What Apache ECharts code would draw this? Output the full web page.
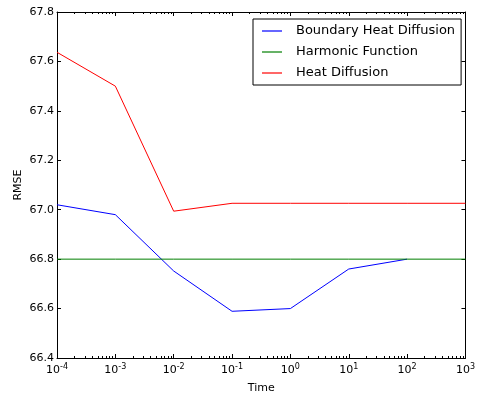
<!DOCTYPE html>
<html>
<head>
<meta charset="utf-8">
<script src="https://cdn.jsdelivr.net/npm/echarts@6/dist/echarts.min.js"></script>
<style>
  html, body { margin: 0; padding: 0; background: #fff; }
  #chart { width: 478px; height: 399px; }
</style>
</head>
<body>
<div id="chart"></div>
<script>
// Diffusion time (log scale) and the RMSE of each method
const times = [1e-4, 1e-3, 1e-2, 1e-1, 1, 10, 100, 1000];
const boundaryHeat = [67.02, 66.98, 66.752, 66.589, 66.60, 66.76, 66.80];
const harmonic = [66.8, 66.8, 66.8, 66.8, 66.8, 66.8, 66.8, 66.8];
const heatDiffusion = [67.637, 67.50, 66.994, 67.026, 67.026, 67.026, 67.026, 67.026];

const seriesNames = ['Boundary Heat Diffusion', 'Harmonic Function', 'Heat Diffusion'];
const seriesColors = ['#0000ff', '#007f00', '#ff0000'];
const yTicks = { min: 66.4, max: 67.8, step: 0.2 };

const FONT = 'DejaVu Sans';

function pairs(xs, ys) {
  return ys.map((y, i) => [xs[i], y]);
}

function powerLabel(v) {
  const e = Math.round(Math.log10(v));
  return '{b|10}{e|' + String(e) + '}';
}

const tickStyle = { show: true, inside: true, length: 4, lineStyle: { color: '#000', width: 1 } };
const minorStyle = { show: true, splitNumber: 9, length: 2, lineStyle: { color: '#000', width: 1 } };
const lineStyleAxis = { show: true, lineStyle: { color: '#000', width: 1 } };

const chart = echarts.init(document.getElementById('chart'), null, { renderer: 'canvas' });

chart.setOption({
  animation: false,
  backgroundColor: '#fff',
  textStyle: { fontFamily: FONT },
  grid: { left: 57, right: 12, top: 12, bottom: 41, containLabel: false },
  legend: {
    orient: 'vertical',
    left: 253,
    top: 19,
    padding: [5, 6, 5, 9],
    itemGap: 7,
    itemWidth: 20,
    itemHeight: 1.2,
    icon: 'rect',
    borderColor: '#000',
    borderWidth: 1,
    borderRadius: 0,
    backgroundColor: '#fff',
    data: seriesNames,
    textStyle: { fontFamily: FONT, fontSize: 13, lineHeight: 14, color: '#000', padding: [0, 0, 0, 9] }
  },
  xAxis: [
    {
      type: 'log', logBase: 10, min: 1e-4, max: 1e3,
      position: 'bottom',
      name: 'Time', nameLocation: 'middle', nameGap: 25,
      nameMoveOverlap: false,
      nameTextStyle: { fontFamily: FONT, fontSize: 11, color: '#000' },
      axisLine: lineStyleAxis,
      axisTick: tickStyle,
      minorTick: minorStyle,
      splitLine: { show: false },
      minorSplitLine: { show: false },
      axisLabel: {
        color: '#000', margin: 5,
        formatter: powerLabel,
        rich: {
          b: { fontFamily: FONT, fontSize: 11, color: '#000' },
          e: { fontFamily: FONT, fontSize: 8, color: '#000', verticalAlign: 'bottom', padding: [0, 0, 7, 0] }
        }
      }
    },
    {
      type: 'log', logBase: 10, min: 1e-4, max: 1e3,
      position: 'top',
      axisLine: lineStyleAxis,
      axisTick: tickStyle,
      minorTick: minorStyle,
      splitLine: { show: false },
      axisLabel: { show: false }
    }
  ],
  yAxis: [
    {
      type: 'value', min: yTicks.min, max: yTicks.max, interval: yTicks.step,
      position: 'left',
      name: 'RMSE', nameLocation: 'middle', nameGap: 39, nameRotate: 90,
      nameMoveOverlap: false,
      nameTextStyle: { fontFamily: FONT, fontSize: 11, color: '#000', verticalAlign: 'middle' },
      axisLine: lineStyleAxis,
      axisTick: tickStyle,
      splitLine: { show: false },
      axisLabel: {
        color: '#000', fontFamily: FONT, fontSize: 11, margin: 3,
        formatter: v => v.toFixed(1)
      }
    },
    {
      type: 'value', min: yTicks.min, max: yTicks.max, interval: yTicks.step,
      position: 'right',
      axisLine: lineStyleAxis,
      axisTick: tickStyle,
      splitLine: { show: false },
      axisLabel: { show: false }
    }
  ],
  series: [
    { name: seriesNames[0], data: pairs(times, boundaryHeat) },
    { name: seriesNames[1], data: pairs(times, harmonic) },
    { name: seriesNames[2], data: pairs(times, heatDiffusion) }
  ].map((s, i) => ({
    type: 'line',
    name: s.name,
    data: s.data,
    xAxisIndex: 0,
    yAxisIndex: 0,
    symbol: 'none',
    showSymbol: false,
    color: seriesColors[i],
    lineStyle: { color: seriesColors[i], width: 1 },
    z: 2 + i
  }))
});
</script>
</body>
</html>
